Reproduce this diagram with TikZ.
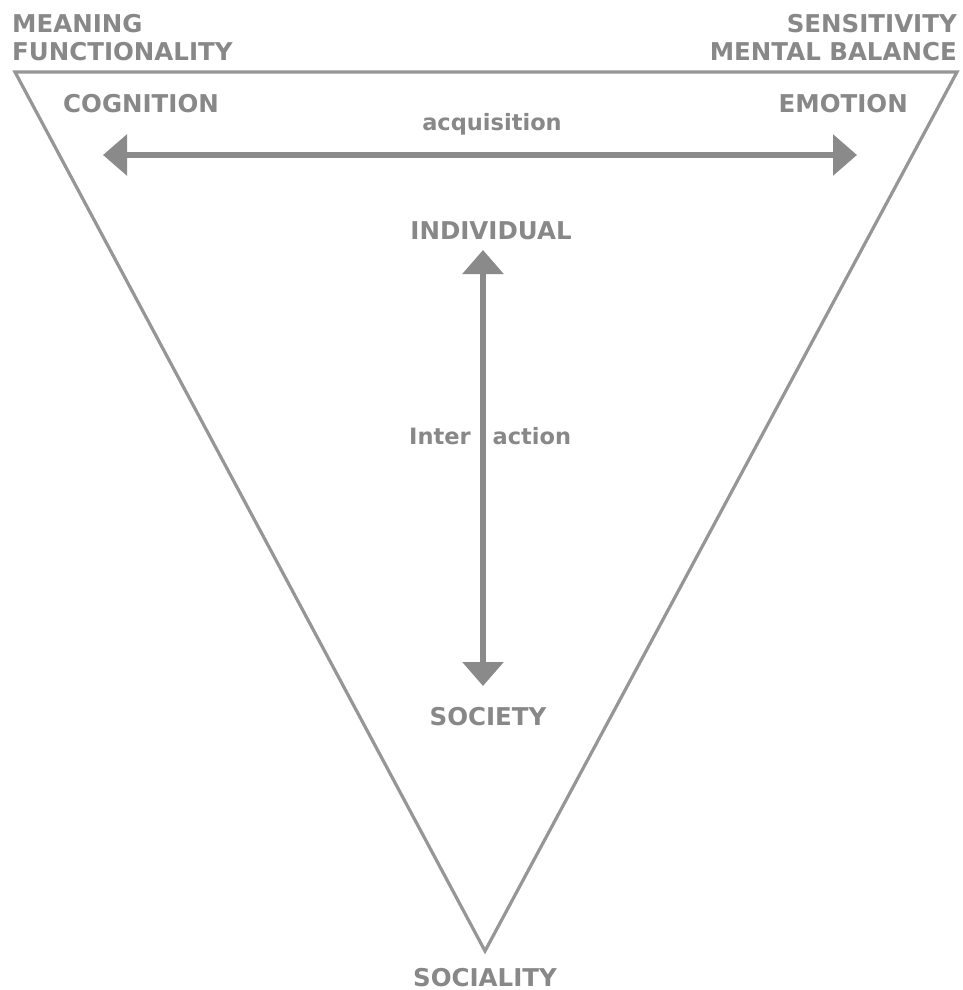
\documentclass[tikz,border=0pt]{standalone}
\usepackage{fontspec}
\setmainfont{DejaVu Sans}
\usetikzlibrary{arrows.meta}
\definecolor{txtgray}{HTML}{888888}
\definecolor{linegray}{HTML}{969696}
\definecolor{arrgray}{HTML}{8A8A8A}
\begin{document}
\begin{tikzpicture}[x=1pt,y=-1pt,
  lbl/.style={text=txtgray,font=\fontsize{24.5}{27}\selectfont\bfseries,inner sep=0pt},
  lowlbl/.style={lbl,font=\fontsize{22.5}{27}\selectfont\bfseries},
  frame/.style={draw=linegray,line width=3.2pt,line join=miter},
  bigarrow/.style={draw=arrgray,line width=6.5pt,
    {Triangle[length=24pt,width=40pt]}-{Triangle[length=24pt,width=40pt]}}]
\useasboundingbox (0,0) rectangle (962,990);
\fill[white] (0,0) rectangle (962,990);
\coordinate (tl) at (15,72);
\coordinate (tr) at (957,72);
\coordinate (bt) at (485,951);
\draw[frame] (tl) -- (tr) -- (bt) -- cycle;
\node[lbl,anchor=base west] (meaning) at (12,33) {MEANING};
\node[lbl,anchor=base west] (func) at (12,60) {FUNCTIONALITY};
\node[lbl,anchor=base east] (sens) at (957,33) {SENSITIVITY};
\node[lbl,anchor=base east] (mental) at (957,60) {MENTAL BALANCE};
\node[lbl,anchor=base west] (cog) at (63,112) {COGNITION};
\node[lbl,anchor=base east] (emo) at (908,112) {EMOTION};
\node[lowlbl,anchor=base] (acq) at (492,130) {acquisition};
\node[lbl,anchor=base] (ind) at (491,239) {INDIVIDUAL};
\node[lowlbl,anchor=base west] (inter) at (409,444) {Inter\hspace{22pt}action};
\node[lbl,anchor=base] (soc) at (488,725) {SOCIETY};
\node[lbl,anchor=base] (socl) at (485,986) {SOCIALITY};
\coordinate (hl) at (103,155);
\coordinate (hr) at (857,155);
\coordinate (vt) at (483,250);
\coordinate (vb) at (483,686);
\draw[bigarrow] (hl) -- (hr);
\draw[bigarrow] (vt) -- (vb);
\end{tikzpicture}
\end{document}
